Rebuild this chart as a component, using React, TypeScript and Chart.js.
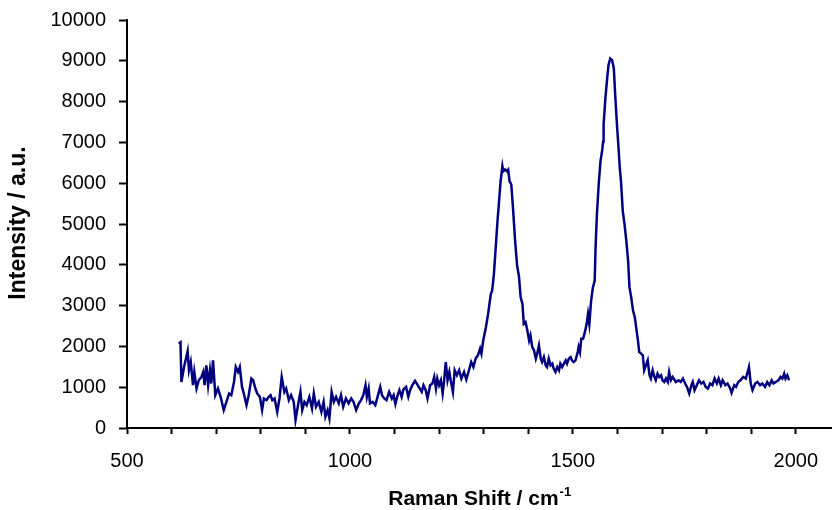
import React, { useEffect, useRef } from "react";
import { Chart, registerables } from "chart.js";

Chart.register(...registerables);

const ramanShift = [
  616, 620, 622, 628, 636, 639, 643, 648, 651, 656, 661, 667, 671, 674, 678, 682, 686, 689, 693, 698,
  704, 710, 717, 723, 729, 734, 740, 744, 749, 753, 758, 762, 768, 773, 779, 783, 788, 792, 798, 803,
  807, 813, 818, 822, 826, 831, 837, 842, 847, 853, 857, 863, 868, 874, 878, 883, 889, 893, 898, 903,
  909, 915, 919, 924, 930, 936, 941, 945, 950, 954, 959, 964, 969, 975, 980, 985, 991, 997, 1003, 1008,
  1014, 1020, 1025, 1030, 1035, 1038, 1042, 1045, 1051, 1057, 1062, 1068, 1072, 1077, 1082, 1088, 1094, 1098, 1102, 1107,
  1111, 1116, 1120, 1126, 1131, 1135, 1140, 1146, 1152, 1155, 1161, 1165, 1170, 1174, 1180, 1185, 1189, 1193, 1196, 1200,
  1204, 1208, 1211, 1215, 1219, 1223, 1226, 1231, 1235, 1240, 1245, 1250, 1256, 1261, 1267, 1272, 1277, 1282, 1287, 1292,
  1295, 1299, 1305, 1310, 1312, 1316, 1319, 1323, 1327, 1331, 1334, 1338, 1342, 1344, 1348, 1352, 1355, 1358, 1362, 1366,
  1370, 1375, 1379, 1383, 1387, 1390, 1394, 1398, 1402, 1405, 1409, 1413, 1417, 1420, 1424, 1428, 1431, 1435, 1439, 1442,
  1446, 1450, 1454, 1457, 1461, 1465, 1469, 1472, 1476, 1480, 1484, 1487, 1491, 1495, 1498, 1502, 1506, 1511, 1513, 1516,
  1519, 1523, 1527, 1531, 1534, 1537, 1541, 1545, 1549, 1551, 1554, 1558, 1562, 1566, 1568, 1569, 1573, 1577, 1580, 1584,
  1588, 1592, 1595, 1599, 1603, 1605, 1608, 1612, 1616, 1620, 1624, 1627, 1631, 1635, 1639, 1642, 1646, 1649, 1653, 1657,
  1660, 1664, 1668, 1672, 1675, 1679, 1683, 1686, 1690, 1694, 1698, 1701, 1705, 1709, 1713, 1716, 1720, 1724, 1731, 1737,
  1742, 1747, 1752, 1756, 1761, 1766, 1769, 1773, 1778, 1783, 1788, 1793, 1798, 1803, 1808, 1813, 1818, 1823, 1827, 1832,
  1836, 1842, 1847, 1853, 1856, 1862, 1866, 1871, 1876, 1882, 1888, 1892, 1895, 1899, 1903, 1909, 1914, 1920, 1925, 1931,
  1936, 1941, 1946, 1950, 1955, 1961, 1966, 1970, 1974, 1977, 1981, 1985,
];

const intensity = [
  2066, 2100, 1129, 1495, 1885, 1415, 1617, 1049, 1373, 968, 1171, 1251, 1373, 1049, 1537, 1049, 1415, 1090, 1659, 805,
  968, 763, 439, 641, 846, 805, 1129, 1495, 1373, 1495, 1007, 846, 561, 805, 1212, 1171, 968, 846, 763, 439,
  724, 683, 763, 805, 683, 724, 398, 724, 1251, 885, 968, 683, 805, 641, 195, 520, 885, 439, 641, 561,
  763, 480, 846, 520, 641, 398, 641, 276, 439, 237, 885, 641, 763, 602, 805, 520, 724, 602, 724, 641,
  439, 602, 683, 805, 1049, 763, 968, 602, 641, 561, 763, 1007, 805, 724, 683, 885, 724, 805, 585, 805,
  927, 763, 944, 1007, 763, 927, 1049, 1154, 1049, 993, 885, 1049, 927, 724, 1049, 1090, 1251, 968, 1212, 1049,
  1171, 846, 1129, 1617, 1171, 1373, 1171, 885, 1415, 1293, 1415, 1212, 1373, 1188, 1415, 1617, 1495, 1700, 1780, 1944,
  1822, 2146, 2471, 2797, 2959, 3285, 3366, 3773, 4422, 5073, 5480, 6049, 6415, 6293, 6334, 6293, 6334, 6049, 5968, 5358,
  4666, 3976, 3732, 3202, 3041, 2554, 2593, 2390, 2146, 2268, 1983, 1902, 1700, 1822, 2024, 1700, 1617, 1739, 1537, 1495,
  1700, 1537, 1578, 1456, 1373, 1495, 1415, 1578, 1495, 1578, 1659, 1578, 1700, 1739, 1659, 1617, 1659, 1861, 1983, 1861,
  2188, 2188, 2349, 2554, 2797, 2554, 3122, 3446, 3610, 4422, 5237, 5968, 6537, 6822, 7024, 7432, 8081, 8568, 8895, 9056,
  9017, 8812, 8163, 7432, 6780, 6415, 6049, 5317, 4993, 4585, 4098, 3446, 3202, 2878, 2715, 2471, 2146, 1861, 1822, 1780,
  1415, 1537, 1659, 1293, 1212, 1415, 1251, 1171, 1334, 1251, 1293, 1171, 1129, 1212, 1129, 1373, 1171, 1251, 1129, 1171,
  1129, 1212, 1090, 1007, 846, 1049, 1129, 927, 1049, 1171, 1090, 1129, 1007, 968, 1090, 1049, 1212, 1090, 1212, 1049,
  1171, 1049, 1090, 968, 861, 1049, 1007, 1129, 1171, 1251, 1212, 1373, 1495, 1090, 927, 1090, 1129, 1049, 1090, 1007,
  1129, 1049, 1171, 1090, 1129, 1171, 1251, 1212, 1334, 1212, 1293, 1171,
];

const xMin = 500;
const xMax = 2080;
const xTickValues = [500, 600, 700, 800, 900, 1000, 1100, 1200, 1300, 1400, 1500, 1600, 1700, 1800, 1900, 2000];
const xLabelTicks = [500, 1000, 1500, 2000];
const yMin = 0;
const yMax = 10000;

const xTitleMain = "Raman Shift / cm";
const xTitleSup = "-1";
const yTitle = "Intensity / a.u.";

const FONT = "'Liberation Sans', Arial, sans-serif";

const titlePlugin = {
  id: "axisTitles",
  afterDraw(chart: any) {
    const ctx = chart.ctx;
    const area = chart.chartArea;
    ctx.save();
    ctx.fillStyle = "#000";
    ctx.font = `bold 21px ${FONT}`;
    const wMain = ctx.measureText(xTitleMain).width;
    ctx.font = `bold 13px ${FONT}`;
    const wSup = ctx.measureText(xTitleSup).width;
    const total = wMain + wSup;
    const cx = (area.left + area.right) / 2;
    const startX = cx - total / 2;
    const baseY = 505;
    ctx.textBaseline = "alphabetic";
    ctx.textAlign = "left";
    ctx.font = `bold 21px ${FONT}`;
    ctx.fillText(xTitleMain, startX, baseY);
    ctx.font = `bold 13px ${FONT}`;
    ctx.fillText(xTitleSup, startX + wMain + 1, baseY - 9);
    ctx.translate(19, 223);
    ctx.rotate(-Math.PI / 2);
    ctx.font = `bold 23px ${FONT}`;
    ctx.textAlign = "center";
    ctx.textBaseline = "middle";
    ctx.fillText(yTitle, 0, 0);
    ctx.restore();
  },
};

export default function App() {
  const ref = useRef<HTMLCanvasElement | null>(null);
  useEffect(() => {
    document.body.style.margin = "0";
    if (!ref.current) return;
    const points = ramanShift.map((x, i) => ({ x, y: intensity[i] }));
    const chart = new Chart(ref.current, {
      type: "line",
      data: {
        datasets: [
          {
            data: points,
            borderColor: "#000080",
            borderWidth: 2.5,
            pointRadius: 0,
            fill: false,
            tension: 0,
          },
        ],
      },
      options: {
        animation: false,
        responsive: true,
        maintainAspectRatio: false,
        layout: { padding: { top: 20, left: 0, right: 0, bottom: 0 } },
        plugins: { legend: { display: false }, tooltip: { enabled: false } },
        scales: {
          x: {
            type: "linear",
            min: xMin,
            max: xMax,
            afterBuildTicks: (scale: any) => {
              scale.ticks = xTickValues.map((value) => ({ value }));
            },
            afterFit: (scale: any) => {
              scale.height = 82;
            },
            ticks: {
              autoSkip: false,
              maxRotation: 0,
              padding: 15,
              color: "#000",
              font: { family: FONT, size: 20 },
              callback: (v: any) => {
                const n = Math.round(Number(v));
                return xLabelTicks.includes(n) ? String(n) : "";
              },
            },
            grid: {
              drawOnChartArea: false,
              drawTicks: true,
              tickLength: 6,
              tickWidth: 2,
              tickColor: "#000",
            },
            border: { display: true, color: "#000", width: 2 },
          },
          y: {
            type: "linear",
            min: yMin,
            max: yMax,
            afterFit: (scale: any) => {
              scale.width = 127;
              scale.paddingTop = 0;
              scale.paddingBottom = 0;
            },
            ticks: {
              stepSize: 1000,
              padding: 13,
              color: "#000",
              font: { family: FONT, size: 20 },
              callback: (v: any) => String(Math.round(Number(v))),
            },
            grid: {
              drawOnChartArea: false,
              drawTicks: true,
              tickLength: 8,
              tickWidth: 2,
              tickColor: "#000",
            },
            border: { display: true, color: "#000", width: 2 },
          },
        },
      },
      plugins: [titlePlugin],
    });
    return () => chart.destroy();
  }, []);
  return (
    <div style={{ position: "relative", width: "833px", height: "510px" }}>
      <canvas ref={ref} />
    </div>
  );
}
